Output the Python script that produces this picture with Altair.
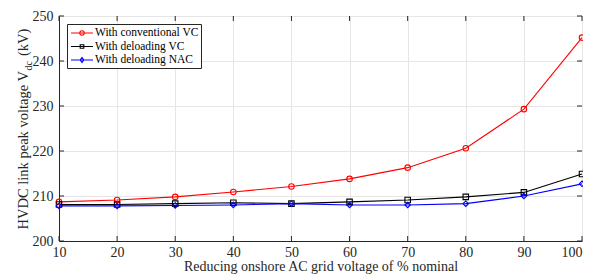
import altair as alt
import pandas as pd

x_vals = [10, 20, 30, 40, 50, 60, 70, 80, 90, 100]
y_ticks = [200, 210, 220, 230, 240, 250]
conv_vc = [208.7, 209.1, 209.8, 210.9, 212.1, 213.8, 216.3, 220.6, 229.3, 245.2]
deload_vc = [208.1, 208.1, 208.3, 208.5, 208.3, 208.7, 209.1, 209.8, 210.8, 214.9]
deload_nac = [207.8, 207.8, 207.9, 208.0, 208.3, 208.0, 208.0, 208.3, 210.0, 212.7]
series_names = ["With conventional VC", "With deloading VC", "With deloading NAC"]
colors = ["#ff0000", "#000000", "#0000ff"]
y_title_main = "HVDC link peak voltage V"
y_title_sub = "dc"
y_title_end = "(kV)"
x_title = "Reducing onshore AC grid voltage of % nominal"

rows = []
for name, vals in zip(series_names, [conv_vc, deload_vc, deload_nac]):
    for xv, yv in zip(x_vals, vals):
        rows.append({"x": xv, "y": yv, "series": name})
df = pd.DataFrame(rows)

font = "Liberation Serif"
axc = "#262626"
W, H = 523, 225

xscale = alt.Scale(domain=[10, 100], nice=False)
yscale = alt.Scale(domain=[200, 250], nice=False)

xenc = alt.X("x:Q", scale=xscale,
             axis=alt.Axis(values=x_vals, title=x_title,
                           labelFontSize=14, titleFontSize=14, titleFontWeight="normal",
                           labelColor=axc, titleColor=axc, labelFlush=False, labelOverlap=False,
                           labelAlign={"condition": {"test": "datum.value == 100", "value": "right"},
                                       "value": "center"},
                           grid=True, gridColor="#e6e6e6", ticks=False, labelPadding=4,
                           titlePadding=0, domainColor=axc))
yenc = alt.Y("y:Q", scale=yscale,
             axis=alt.Axis(values=y_ticks, title=None,
                           labelFontSize=14, labelColor=axc, labelFlush=False,
                           grid=True, gridColor="#e6e6e6", ticks=False, labelPadding=6,
                           domainColor=axc))

lines = alt.Chart(df).mark_line(strokeWidth=1.1).encode(
    x=xenc, y=yenc,
    color=alt.Color("series:N", scale=alt.Scale(domain=series_names, range=colors), legend=None),
    detail="series:N",
)

points = alt.Chart(df).mark_point(filled=False, size=30, strokeWidth=1.1, opacity=1).encode(
    x="x:Q", y="y:Q",
    color=alt.Color("series:N", scale=alt.Scale(domain=series_names, range=colors), legend=None),
    shape=alt.Shape("series:N", scale=alt.Scale(domain=series_names, range=["circle", "square", "diamond"]), legend=None),
)

legend_shapes = [
    "M-1.83,0L1.83,0M0.37,0A0.37,0.37,0,1,1,-0.37,0A0.37,0.37,0,1,1,0.37,0",
    "M-1.83,0L1.83,0M-0.3,-0.3H0.3V0.3H-0.3Z",
    "M-1.83,0L1.83,0M0,-0.42L0.3,0L0,0.42L-0.3,0Z",
]

leg = alt.Legend(title=None, orient="none", legendX=8, legendY=8,
                 labelFont=font, labelFontSize=11.5, labelColor="#000000",
                 symbolSize=144, symbolStrokeWidth=1.1, symbolOpacity=1,
                 symbolFillColor="transparent",
                 strokeColor=axc, fillColor="white",
                 padding=2, rowPadding=0.5, labelOffset=6, symbolOffset=6,
                 cornerRadius=0)

legend_layer = alt.Chart(df).mark_point(filled=False, opacity=0).encode(
    x="x:Q", y="y:Q",
    color=alt.Color("series:N", scale=alt.Scale(domain=series_names, range=colors), legend=leg),
    shape=alt.Shape("series:N", scale=alt.Scale(domain=series_names, range=legend_shapes), legend=leg),
)

# inward ticks on all four sides
xt = pd.DataFrame({"x": x_vals})
yt = pd.DataFrame({"y": y_ticks})
tick_x_bottom = alt.Chart(xt).mark_rule(color=axc, strokeWidth=1).encode(
    x=alt.X("x:Q", scale=xscale), y=alt.value(H), y2=alt.value(H - 5))
tick_x_top = alt.Chart(xt).mark_rule(color=axc, strokeWidth=1).encode(
    x=alt.X("x:Q", scale=xscale), y=alt.value(0), y2=alt.value(5))
tick_y_left = alt.Chart(yt).mark_rule(color=axc, strokeWidth=1).encode(
    y=alt.Y("y:Q", scale=yscale), x=alt.value(0), x2=alt.value(5))
tick_y_right = alt.Chart(yt).mark_rule(color=axc, strokeWidth=1).encode(
    y=alt.Y("y:Q", scale=yscale), x=alt.value(W), x2=alt.value(W - 5))

# y title with subscript
t_df = pd.DataFrame({"main": [y_title_main], "sub": [y_title_sub], "end": [y_title_end]})
anchor = 55
t_main = alt.Chart(t_df).mark_text(angle=270, align="right", baseline="alphabetic",
                                   font=font, fontSize=14.5, color=axc).encode(
    text="main:N", x=alt.value(-31), y=alt.value(anchor))
t_sub = alt.Chart(t_df).mark_text(angle=270, align="left", baseline="alphabetic",
                                  font=font, fontSize=10, color=axc).encode(
    text="sub:N", x=alt.value(-27.5), y=alt.value(anchor - 0.5))
t_end = alt.Chart(t_df).mark_text(angle=270, align="left", baseline="alphabetic",
                                  font=font, fontSize=14.5, color=axc).encode(
    text="end:N", x=alt.value(-31), y=alt.value(anchor - 15))

chart = alt.layer(lines, points, legend_layer, tick_x_bottom, tick_x_top, tick_y_left, tick_y_right,
                  t_main, t_sub, t_end).resolve_scale(
    shape="independent", color="independent"
).properties(
    width=W, height=H,
    autosize=alt.AutoSizeParams(type="none"),
    padding={"left": 51, "top": 8, "right": 1, "bottom": 34},
).configure_view(stroke=axc, strokeWidth=1).configure(font=font).configure_axis(
    labelFont=font, titleFont=font).configure_legend(labelFont=font)

chart.save("out.html", embed_options={"renderer": "svg", "actions": False})
